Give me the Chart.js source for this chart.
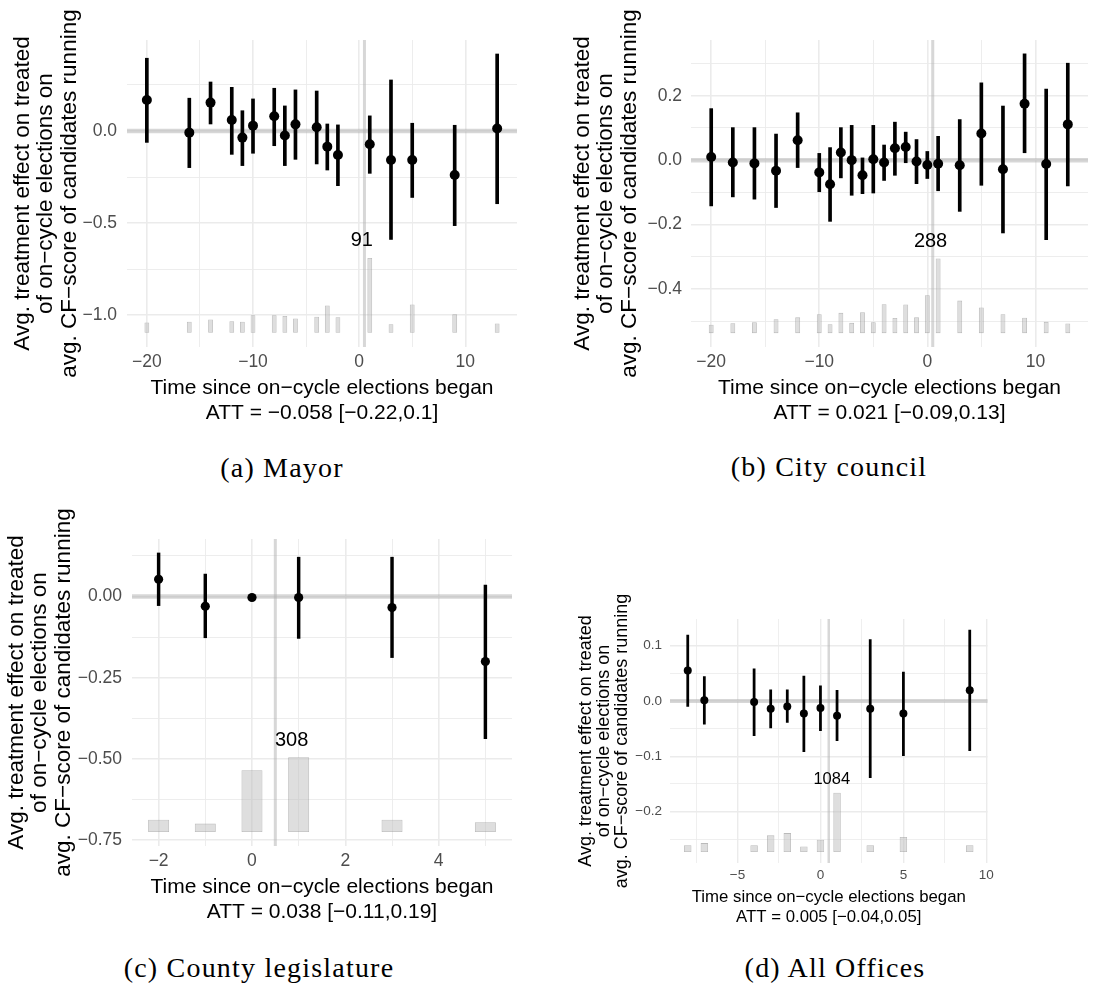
<!DOCTYPE html>
<html>
<head>
<meta charset="utf-8">
<script src="https://cdn.jsdelivr.net/npm/chart.js@4.4.1/dist/chart.umd.min.js"></script>
<style>
body { margin:0; background:#fff; width:1111px; height:988px; position:relative; overflow:hidden; }
canvas { position:absolute; }
.cap { position:absolute; font-family:"Liberation Serif", serif; font-size:28px; letter-spacing:1.2px; color:#000; transform:translateX(-50%); white-space:nowrap; line-height:32px; }
</style>
</head>
<body>
<canvas id="cA" width="540" height="430" style="left:0;top:0"></canvas>
<canvas id="cB" width="551" height="430" style="left:560px;top:0"></canvas>
<canvas id="cC" width="540" height="439" style="left:0;top:490px"></canvas>
<canvas id="cD" width="440" height="353" style="left:560px;top:580px"></canvas>
<div class="cap" style="left:282px;top:452px">(a) Mayor</div>
<div class="cap" style="left:829px;top:451px">(b) City council</div>
<div class="cap" style="left:259px;top:952px">(c) County legislature</div>
<div class="cap" style="left:835px;top:952px">(d) All Offices</div>
<script>
// (a) Mayor
var xA = [-20,-16,-14,-12,-11,-10,-8,-7,-6,-4,-3,-2,1,3,5,9,13];
var estA = [0.168,-0.009,0.154,0.060,-0.036,0.029,0.080,-0.025,0.036,0.020,-0.085,-0.130,-0.072,-0.158,-0.158,-0.239,0.013];
var loA = [-0.062,-0.199,0.038,-0.127,-0.188,-0.121,-0.080,-0.188,-0.154,-0.179,-0.212,-0.297,-0.230,-0.589,-0.361,-0.514,-0.395];
var hiA = [0.395,0.178,0.266,0.237,0.110,0.174,0.232,0.136,0.223,0.217,0.038,0.033,0.082,0.277,0.042,0.031,0.418];
var barTopA = [-1.040,-1.036,-1.024,-1.033,-1.036,-1.000,-1.000,-1.005,-1.018,-1.009,-0.947,-1.011,-0.690,-1.049,-0.942,-0.995,-1.045];
var barBaseA = -1.096;
var countA = ['91', 0.25, -0.596];

// (b) City council
var xB = [-20,-18,-16,-14,-12,-10,-9,-8,-7,-6,-5,-4,-3,-2,-1,0,1,3,5,7,9,11,13];
var estB = [0.010,-0.007,-0.010,-0.033,0.062,-0.038,-0.075,0.024,0.000,-0.047,0.003,-0.007,0.037,0.041,-0.004,-0.015,-0.011,-0.016,0.083,-0.028,0.175,-0.012,0.111];
var loB = [-0.142,-0.114,-0.121,-0.147,-0.023,-0.098,-0.190,-0.055,-0.109,-0.104,-0.102,-0.063,-0.047,-0.008,-0.073,-0.057,-0.095,-0.159,-0.078,-0.226,0.023,-0.247,-0.080];
var hiB = [0.160,0.101,0.101,0.081,0.147,0.021,0.039,0.101,0.108,0.007,0.108,0.047,0.118,0.087,0.064,0.027,0.074,0.126,0.240,0.168,0.330,0.221,0.301];
var barTopB = [-0.511,-0.506,-0.503,-0.494,-0.488,-0.478,-0.509,-0.474,-0.505,-0.472,-0.503,-0.447,-0.490,-0.448,-0.488,-0.419,-0.305,-0.436,-0.457,-0.478,-0.489,-0.502,-0.507];
var barBaseB = -0.537;
var countB = ['288', 0.3, -0.254];

// (c) County legislature
var xC = [-2,-1,0,1,3,5];
var estC = [0.053,-0.030,-0.003,-0.003,-0.034,-0.200];
var loC = [-0.028,-0.127,-0.012,-0.129,-0.188,-0.438];
var hiC = [0.134,0.069,0.006,0.121,0.121,0.035];
var barTopC = [-0.687,-0.699,-0.535,-0.495,-0.687,-0.695];
var barBaseC = -0.725;
var countC = ['308', 0.85, -0.442];

// (d) All Offices
var xD = [-8,-7,-4,-3,-2,-1,0,1,3,5,9];
var estD = [0.055,0.001,-0.002,-0.014,-0.010,-0.023,-0.013,-0.027,-0.014,-0.023,0.019];
var loD = [-0.010,-0.042,-0.063,-0.049,-0.039,-0.092,-0.054,-0.072,-0.139,-0.099,-0.090];
var hiD = [0.119,0.044,0.058,0.020,0.020,0.045,0.027,0.019,0.111,0.052,0.128];
var barTopD = [-0.261,-0.257,-0.261,-0.243,-0.239,-0.263,-0.251,-0.166,-0.261,-0.246,-0.261];
var barBaseD = -0.273;
var countD = ['1084', 0.68, -0.142];

// ticks
var xMajorAB = [-20,-10,0,10], xMinorAB = [-15,-5,5];
var xMajorC = [-2,0,2,4], xMinorC = [-1,1,3,5];
var xMajorD = [-5,0,5,10], xMinorD = [-7.5,-2.5,2.5,7.5];
var yMajorA = [-1,-0.5,0], yLabelsA = ['\u22121.0','\u22120.5','0.0'], yMinorA = [-0.75,-0.25,0.25];
var yMajorB = [-0.4,-0.2,0,0.2], yLabelsB = ['\u22120.4','\u22120.2','0.0','0.2'], yMinorB = [-0.5,-0.3,-0.1,0.1,0.3];
var yMajorC = [-0.75,-0.5,-0.25,0], yLabelsC = ['\u22120.75','\u22120.50','\u22120.25','0.00'], yMinorC = [-0.625,-0.375,-0.125,0.125];
var yMajorD = [-0.2,-0.1,0,0.1], yLabelsD = ['\u22120.2','\u22120.1','0.0','0.1'], yMinorD = [-0.25,-0.15,-0.05,0.05];

var attA = 'ATT = \u22120.058 [\u22120.22,0.1]';
var attB = 'ATT = 0.021 [\u22120.09,0.13]';
var attC = 'ATT = 0.038 [\u22120.11,0.19]';
var attD = 'ATT = 0.005 [\u22120.04,0.05]';

var zeroLine = 0, startLine = 0.5;
var xTitle = 'Time since on\u2212cycle elections began';
var yTitle = ['Avg. treatment effect on treated', 'of on\u2212cycle elections on', 'avg. CF\u2212score of candidates running'];
var FONT = "'Liberation Sans', Arial, sans-serif";

var refLines = {
	id: 'refLines',
	beforeDatasetsDraw: function(chart, args, opts) {
		var ctx = chart.ctx, a = chart.chartArea;
		var y0 = chart.scales.y.getPixelForValue(zeroLine);
		var x0 = chart.scales.x.getPixelForValue(startLine);
		ctx.save();
		ctx.strokeStyle = 'rgba(175,175,175,0.5)';
		ctx.lineWidth = opts.v;
		ctx.beginPath(); ctx.moveTo(x0, a.top); ctx.lineTo(x0, a.bottom); ctx.stroke();
		ctx.lineWidth = opts.h;
		ctx.beginPath(); ctx.moveTo(a.left, y0); ctx.lineTo(a.right, y0); ctx.stroke();
		ctx.restore();
	}
};

var countLabel = {
	id: 'countLabel',
	afterDatasetsDraw: function(chart, args, opts) {
		var ctx = chart.ctx;
		ctx.save();
		ctx.fillStyle = '#000';
		ctx.font = opts.size + 'px ' + FONT;
		ctx.textAlign = 'center';
		ctx.textBaseline = 'middle';
		ctx.fillText(opts.c[0], chart.scales.x.getPixelForValue(opts.c[1]), chart.scales.y.getPixelForValue(opts.c[2]));
		ctx.restore();
	}
};

function inList(list, v) {
	for (var i = 0; i < list.length; i++) if (Math.abs(list[i] - v) < 1e-9) return i;
	return -1;
}

function makePanel(id, d, L) {
	var pts = [], errs = [], bars = [];
	for (var i = 0; i < d.x.length; i++) {
		pts.push({x: d.x[i], y: d.est[i]});
		errs.push({x: d.x[i], y: [d.lo[i], d.hi[i]]});
		bars.push({x: d.x[i], y: [d.barBase, d.barTop[i]]});
	}
	var gridW = function(maj) {
		return function(c) { return inList(maj, c.tick.value) >= 0 ? L.gMaj : L.gMin; };
	};
	new Chart(document.getElementById(id), {
		type: 'bar',
		data: {
			datasets: [
				{ type: 'scatter', data: pts, order: 0, pointRadius: L.r, pointHoverRadius: L.r,
				  backgroundColor: '#000', borderWidth: 0 },
				{ type: 'bar', data: errs, order: 1, grouped: false, barThickness: L.ew,
				  backgroundColor: '#000', borderWidth: 0 },
				{ type: 'bar', data: bars, order: 2, grouped: false, barPercentage: 1, categoryPercentage: 0.45,
				  backgroundColor: 'rgba(190,190,190,0.5)', borderColor: 'rgba(140,140,140,0.6)', borderWidth: 0.8, borderSkipped: false }
			]
		},
		options: {
			responsive: false,
			animation: false,
			devicePixelRatio: 1,
			layout: { padding: { top: L.pt, right: L.pr, left: 0, bottom: 0 } },
			plugins: {
				legend: { display: false },
				tooltip: { enabled: false },
				refLines: { h: L.hw, v: L.vw },
				countLabel: { c: d.count, size: L.lab }
			},
			scales: {
				x: {
					type: 'linear', min: d.xMin, max: d.xMax, offset: false,
					afterBuildTicks: function(s) {
						s.ticks = d.xMajor.concat(d.xMinor).sort(function(a, b) { return a - b; }).map(function(v) { return {value: v}; });
					},
					afterFit: function(s) { s.height = L.xh; },
					ticks: {
						autoSkip: false, maxRotation: 0, minRotation: 0, padding: L.xtp, color: '#4d4d4d',
						font: { family: FONT, size: L.tick },
						callback: function(v) { return inList(d.xMajor, v) >= 0 ? String(v).replace('-', '\u2212') : ''; }
					},
					grid: { offset: false, drawTicks: false, color: '#ebebeb', lineWidth: gridW(d.xMajor) },
					border: { display: false },
					title: {
						display: true, text: [xTitle, d.att], color: '#000',
						font: { family: FONT, size: L.xt, lineHeight: L.xlh }, padding: { top: 0, bottom: L.xpb }
					}
				},
				y: {
					type: 'linear', min: d.yMin, max: d.yMax,
					afterBuildTicks: function(s) {
						s.ticks = d.yMajor.concat(d.yMinor).sort(function(a, b) { return a - b; }).map(function(v) { return {value: v}; });
					},
					afterFit: function(s) { s.width = L.yw; },
					ticks: {
						autoSkip: false, padding: L.ytp, color: '#4d4d4d',
						font: { family: FONT, size: L.tick },
						callback: function(v) { var k = inList(d.yMajor, v); return k >= 0 ? d.yLabels[k] : ''; }
					},
					grid: { drawTicks: false, color: '#ebebeb', lineWidth: gridW(d.yMajor) },
					border: { display: false },
					title: {
						display: true, text: yTitle, color: '#000',
						font: { family: FONT, size: L.yt, lineHeight: L.ylh }, padding: { top: L.ypt, bottom: 0 }
					}
				}
			}
		},
		plugins: [refLines, countLabel]
	});
}

makePanel('cA', {
	x: xA, est: estA, lo: loA, hi: hiA, barTop: barTopA, barBase: barBaseA, count: countA, att: attA,
	xMajor: xMajorAB, xMinor: xMinorAB, yMajor: yMajorA, yLabels: yLabelsA, yMinor: yMinorA,
	xMin: -21.87, xMax: 14.87, yMin: -1.173, yMax: 0.494
}, { pt: 40, pr: 23, yw: 127, xh: 83, yt: 22.5, ylh: 1.045, ypt: 11, tick: 17.5, ytp: 10, xtp: 5,
     xt: 21, xlh: 1.19, xpb: 4.5, lab: 20, r: 5, ew: 3, hw: 4.5, vw: 3, gMaj: 1.6, gMin: 0.9 });

makePanel('cB', {
	x: xB, est: estB, lo: loB, hi: hiB, barTop: barTopB, barBase: barBaseB, count: countB, att: attB,
	xMajor: xMajorAB, xMinor: xMinorAB, yMajor: yMajorB, yLabels: yLabelsB, yMinor: yMinorB,
	xMin: -21.87, xMax: 14.87, yMin: -0.580, yMax: 0.373
}, { pt: 40, pr: 23, yw: 131, xh: 83, yt: 22.5, ylh: 1.045, ypt: 11, tick: 17.5, ytp: 9, xtp: 5,
     xt: 21, xlh: 1.19, xpb: 4.5, lab: 20, r: 5, ew: 3, hw: 4.5, vw: 3, gMaj: 1.6, gMin: 0.9 });

makePanel('cC', {
	x: xC, est: estC, lo: loC, hi: hiC, barTop: barTopC, barBase: barBaseC, count: countC, att: attC,
	xMajor: xMajorC, xMinor: xMinorC, yMajor: yMajorC, yLabels: yLabelsC, yMinor: yMinorC,
	xMin: -2.57, xMax: 5.57, yMin: -0.768, yMax: 0.177
}, { pt: 49, pr: 28, yw: 132, xh: 83, yt: 22.5, ylh: 1.045, ypt: 5, tick: 17.5, ytp: 10, xtp: 5,
     xt: 21, xlh: 1.19, xpb: 4.5, lab: 20, r: 4.6, ew: 2.8, hw: 4.5, vw: 3, gMaj: 1.6, gMin: 0.9 });

makePanel('cD', {
	x: xD, est: estD, lo: loD, hi: hiD, barTop: barTopD, barBase: barBaseD, count: countD, att: attD,
	xMajor: xMajorD, xMinor: xMinorD, yMajor: yMajorD, yLabels: yLabelsD, yMinor: yMinorD,
	xMin: -9.07, xMax: 10.07, yMin: -0.293, yMax: 0.148
}, { pt: 39, pr: 12.5, yw: 110, xh: 70, yt: 18, ylh: 1.0, ypt: 17, tick: 13.5, ytp: 8, xtp: 4,
     xt: 16.8, xlh: 1.19, xpb: 6, lab: 16.5, r: 4, ew: 2.1, hw: 4, vw: 2.5, gMaj: 1.4, gMin: 0.8 });
</script>
</body>
</html>
